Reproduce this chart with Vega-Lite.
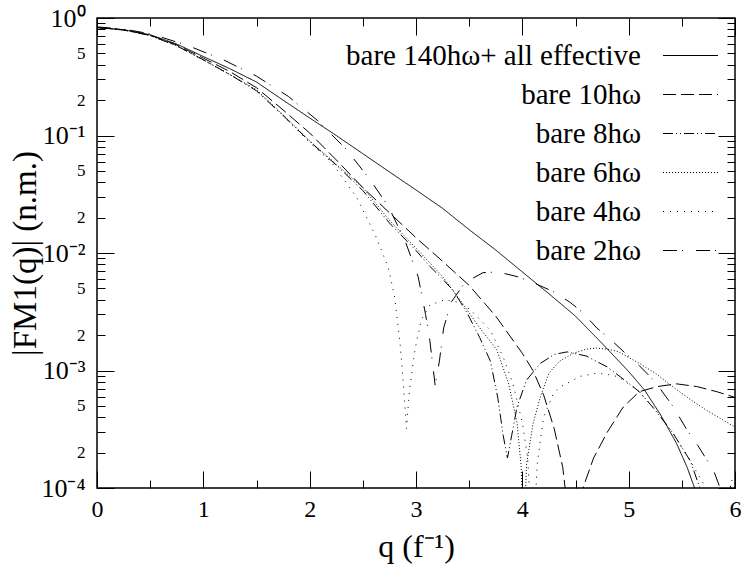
{
  "$schema": "https://vega.github.io/schema/vega-lite/v6.json",
  "width": 638,
  "height": 470,
  "autosize": {"type": "none"},
  "padding": {"left": 97, "top": 18, "right": 7, "bottom": 83},
  "background": "white",
  "config": {
    "view": {"stroke": "black", "strokeWidth": 1.5},
    "font": "Liberation Serif",
    "axis": {"labelColor": "black", "titleColor": "black", "tickColor": "black", "grid": false, "domain": false, "titleFontWeight": "normal", "labelFont": "Liberation Serif", "titleFont": "Liberation Serif"}
  },
  "data": {
    "values": [
      {"s":"bare 140hω+ all effective","q":0,"f":0.83},
      {"s":"bare 140hω+ all effective","q":0.25,"f":0.795},
      {"s":"bare 140hω+ all effective","q":0.5,"f":0.72},
      {"s":"bare 140hω+ all effective","q":0.75,"f":0.6},
      {"s":"bare 140hω+ all effective","q":1,"f":0.47},
      {"s":"bare 140hω+ all effective","q":1.25,"f":0.37},
      {"s":"bare 140hω+ all effective","q":1.5,"f":0.285},
      {"s":"bare 140hω+ all effective","q":1.75,"f":0.2},
      {"s":"bare 140hω+ all effective","q":2,"f":0.141},
      {"s":"bare 140hω+ all effective","q":2.25,"f":0.1},
      {"s":"bare 140hω+ all effective","q":2.5,"f":0.07},
      {"s":"bare 140hω+ all effective","q":2.75,"f":0.049},
      {"s":"bare 140hω+ all effective","q":3,"f":0.0344},
      {"s":"bare 140hω+ all effective","q":3.25,"f":0.024},
      {"s":"bare 140hω+ all effective","q":3.5,"f":0.0158},
      {"s":"bare 140hω+ all effective","q":3.75,"f":0.0106},
      {"s":"bare 140hω+ all effective","q":4,"f":0.0069},
      {"s":"bare 140hω+ all effective","q":4.25,"f":0.0045},
      {"s":"bare 140hω+ all effective","q":4.5,"f":0.0029},
      {"s":"bare 140hω+ all effective","q":4.75,"f":0.0017},
      {"s":"bare 140hω+ all effective","q":5,"f":0.00098},
      {"s":"bare 140hω+ all effective","q":5.15,"f":0.00068},
      {"s":"bare 140hω+ all effective","q":5.3,"f":0.00042},
      {"s":"bare 140hω+ all effective","q":5.45,"f":0.00024},
      {"s":"bare 140hω+ all effective","q":5.55,"f":0.00015},
      {"s":"bare 140hω+ all effective","q":5.62,"f":0.0001},
      {"s":"bare 140hω+ all effective","q":5.7,"f":0.00005},

      {"s":"bare 10hω","q":0,"f":0.83},
      {"s":"bare 10hω","q":0.25,"f":0.795},
      {"s":"bare 10hω","q":0.5,"f":0.715},
      {"s":"bare 10hω","q":0.75,"f":0.59},
      {"s":"bare 10hω","q":1,"f":0.455},
      {"s":"bare 10hω","q":1.25,"f":0.35},
      {"s":"bare 10hω","q":1.5,"f":0.255},
      {"s":"bare 10hω","q":1.75,"f":0.165},
      {"s":"bare 10hω","q":2,"f":0.105},
      {"s":"bare 10hω","q":2.25,"f":0.062},
      {"s":"bare 10hω","q":2.5,"f":0.036},
      {"s":"bare 10hω","q":2.75,"f":0.022},
      {"s":"bare 10hω","q":3,"f":0.0135},
      {"s":"bare 10hω","q":3.25,"f":0.0085},
      {"s":"bare 10hω","q":3.5,"f":0.0053},
      {"s":"bare 10hω","q":3.75,"f":0.0029},
      {"s":"bare 10hω","q":4,"f":0.0014},
      {"s":"bare 10hω","q":4.1,"f":0.001},
      {"s":"bare 10hω","q":4.2,"f":0.00062},
      {"s":"bare 10hω","q":4.3,"f":0.00032},
      {"s":"bare 10hω","q":4.38,"f":0.00015},
      {"s":"bare 10hω","q":4.44,"f":0.00005},
      {"s":"bare 10hω","q":4.5,"f":0.00002},
      {"s":"bare 10hω","q":4.57,"f":0.0001},
      {"s":"bare 10hω","q":4.67,"f":0.00018},
      {"s":"bare 10hω","q":4.8,"f":0.0003},
      {"s":"bare 10hω","q":4.95,"f":0.00049},
      {"s":"bare 10hω","q":5.1,"f":0.00066},
      {"s":"bare 10hω","q":5.27,"f":0.00073},
      {"s":"bare 10hω","q":5.45,"f":0.00077},
      {"s":"bare 10hω","q":5.64,"f":0.00073},
      {"s":"bare 10hω","q":5.83,"f":0.00066},
      {"s":"bare 10hω","q":6,"f":0.00059},

      {"s":"bare 8hω","q":0,"f":0.83},
      {"s":"bare 8hω","q":0.25,"f":0.79},
      {"s":"bare 8hω","q":0.5,"f":0.71},
      {"s":"bare 8hω","q":0.75,"f":0.58},
      {"s":"bare 8hω","q":1,"f":0.44},
      {"s":"bare 8hω","q":1.25,"f":0.33},
      {"s":"bare 8hω","q":1.5,"f":0.24},
      {"s":"bare 8hω","q":1.75,"f":0.148},
      {"s":"bare 8hω","q":2,"f":0.089},
      {"s":"bare 8hω","q":2.25,"f":0.056},
      {"s":"bare 8hω","q":2.5,"f":0.034},
      {"s":"bare 8hω","q":2.75,"f":0.018},
      {"s":"bare 8hω","q":3,"f":0.0105},
      {"s":"bare 8hω","q":3.13,"f":0.0077},
      {"s":"bare 8hω","q":3.25,"f":0.006},
      {"s":"bare 8hω","q":3.35,"f":0.0048},
      {"s":"bare 8hω","q":3.48,"f":0.0031},
      {"s":"bare 8hω","q":3.6,"f":0.0019},
      {"s":"bare 8hω","q":3.7,"f":0.0012},
      {"s":"bare 8hω","q":3.77,"f":0.00058},
      {"s":"bare 8hω","q":3.82,"f":0.00028},
      {"s":"bare 8hω","q":3.86,"f":0.00018},
      {"s":"bare 8hω","q":3.9,"f":0.00028},
      {"s":"bare 8hω","q":3.95,"f":0.00049},
      {"s":"bare 8hω","q":4.04,"f":0.00083},
      {"s":"bare 8hω","q":4.17,"f":0.00115},
      {"s":"bare 8hω","q":4.3,"f":0.00137},
      {"s":"bare 8hω","q":4.42,"f":0.00144},
      {"s":"bare 8hω","q":4.6,"f":0.00133},
      {"s":"bare 8hω","q":4.8,"f":0.00107},
      {"s":"bare 8hω","q":5,"f":0.00078},
      {"s":"bare 8hω","q":5.1,"f":0.00066},
      {"s":"bare 8hω","q":5.25,"f":0.00046},
      {"s":"bare 8hω","q":5.42,"f":0.00029},
      {"s":"bare 8hω","q":5.58,"f":0.00017},
      {"s":"bare 8hω","q":5.67,"f":0.0001},
      {"s":"bare 8hω","q":5.73,"f":0.00005},

      {"s":"bare 6hω","q":0,"f":0.83},
      {"s":"bare 6hω","q":0.25,"f":0.79},
      {"s":"bare 6hω","q":0.5,"f":0.71},
      {"s":"bare 6hω","q":0.75,"f":0.58},
      {"s":"bare 6hω","q":1,"f":0.44},
      {"s":"bare 6hω","q":1.25,"f":0.33},
      {"s":"bare 6hω","q":1.5,"f":0.245},
      {"s":"bare 6hω","q":1.75,"f":0.15},
      {"s":"bare 6hω","q":2,"f":0.09},
      {"s":"bare 6hω","q":2.25,"f":0.057},
      {"s":"bare 6hω","q":2.5,"f":0.036},
      {"s":"bare 6hω","q":2.75,"f":0.019},
      {"s":"bare 6hω","q":3,"f":0.011},
      {"s":"bare 6hω","q":3.25,"f":0.0063},
      {"s":"bare 6hω","q":3.44,"f":0.0037},
      {"s":"bare 6hω","q":3.6,"f":0.0023},
      {"s":"bare 6hω","q":3.76,"f":0.0015},
      {"s":"bare 6hω","q":3.87,"f":0.00078},
      {"s":"bare 6hω","q":3.95,"f":0.00036},
      {"s":"bare 6hω","q":3.99,"f":0.00015},
      {"s":"bare 6hω","q":4.01,"f":0.00003},
      {"s":"bare 6hω","q":4.04,"f":0.00016},
      {"s":"bare 6hω","q":4.1,"f":0.00035},
      {"s":"bare 6hω","q":4.17,"f":0.0006},
      {"s":"bare 6hω","q":4.25,"f":0.00095},
      {"s":"bare 6hω","q":4.35,"f":0.0012},
      {"s":"bare 6hω","q":4.48,"f":0.0014},
      {"s":"bare 6hω","q":4.6,"f":0.00152},
      {"s":"bare 6hω","q":4.7,"f":0.00155},
      {"s":"bare 6hω","q":4.8,"f":0.00152},
      {"s":"bare 6hω","q":4.9,"f":0.00145},
      {"s":"bare 6hω","q":5.1,"f":0.00115},
      {"s":"bare 6hω","q":5.25,"f":0.00095},
      {"s":"bare 6hω","q":5.42,"f":0.00072},
      {"s":"bare 6hω","q":5.6,"f":0.00055},
      {"s":"bare 6hω","q":5.73,"f":0.00046},
      {"s":"bare 6hω","q":6,"f":0.00033},

      {"s":"bare 4hω","q":0,"f":0.83},
      {"s":"bare 4hω","q":0.25,"f":0.79},
      {"s":"bare 4hω","q":0.5,"f":0.71},
      {"s":"bare 4hω","q":0.75,"f":0.58},
      {"s":"bare 4hω","q":1,"f":0.44},
      {"s":"bare 4hω","q":1.25,"f":0.33},
      {"s":"bare 4hω","q":1.5,"f":0.24},
      {"s":"bare 4hω","q":1.75,"f":0.147},
      {"s":"bare 4hω","q":2,"f":0.087},
      {"s":"bare 4hω","q":2.2,"f":0.06},
      {"s":"bare 4hω","q":2.44,"f":0.03},
      {"s":"bare 4hω","q":2.62,"f":0.014},
      {"s":"bare 4hω","q":2.74,"f":0.0075},
      {"s":"bare 4hω","q":2.8,"f":0.0042},
      {"s":"bare 4hω","q":2.85,"f":0.0017},
      {"s":"bare 4hω","q":2.88,"f":0.0008},
      {"s":"bare 4hω","q":2.91,"f":0.00032},
      {"s":"bare 4hω","q":2.94,"f":0.0007},
      {"s":"bare 4hω","q":2.99,"f":0.0015},
      {"s":"bare 4hω","q":3.05,"f":0.0027},
      {"s":"bare 4hω","q":3.13,"f":0.0036},
      {"s":"bare 4hω","q":3.27,"f":0.004},
      {"s":"bare 4hω","q":3.4,"f":0.0038},
      {"s":"bare 4hω","q":3.51,"f":0.0033},
      {"s":"bare 4hω","q":3.7,"f":0.0022},
      {"s":"bare 4hω","q":3.82,"f":0.0013},
      {"s":"bare 4hω","q":3.91,"f":0.00078},
      {"s":"bare 4hω","q":4,"f":0.00036},
      {"s":"bare 4hω","q":4.05,"f":0.00018},
      {"s":"bare 4hω","q":4.1,"f":0.00003},
      {"s":"bare 4hω","q":4.14,"f":0.00016},
      {"s":"bare 4hω","q":4.2,"f":0.0004},
      {"s":"bare 4hω","q":4.29,"f":0.00063},
      {"s":"bare 4hω","q":4.35,"f":0.00072},
      {"s":"bare 4hω","q":4.48,"f":0.00083},
      {"s":"bare 4hω","q":4.54,"f":0.00089},
      {"s":"bare 4hω","q":4.7,"f":0.00095},
      {"s":"bare 4hω","q":4.86,"f":0.00091},
      {"s":"bare 4hω","q":4.95,"f":0.00083},
      {"s":"bare 4hω","q":5.08,"f":0.00068},
      {"s":"bare 4hω","q":5.25,"f":0.00047},
      {"s":"bare 4hω","q":5.42,"f":0.00029},
      {"s":"bare 4hω","q":5.58,"f":0.00017},
      {"s":"bare 4hω","q":5.7,"f":0.00011},
      {"s":"bare 4hω","q":5.78,"f":0.00005},

      {"s":"bare 2hω","q":0,"f":0.84},
      {"s":"bare 2hω","q":0.25,"f":0.805},
      {"s":"bare 2hω","q":0.5,"f":0.735},
      {"s":"bare 2hω","q":0.85,"f":0.585},
      {"s":"bare 2hω","q":1.19,"f":0.44},
      {"s":"bare 2hω","q":1.5,"f":0.32},
      {"s":"bare 2hω","q":1.8,"f":0.215},
      {"s":"bare 2hω","q":2.07,"f":0.135},
      {"s":"bare 2hω","q":2.34,"f":0.077},
      {"s":"bare 2hω","q":2.56,"f":0.043},
      {"s":"bare 2hω","q":2.74,"f":0.025},
      {"s":"bare 2hω","q":2.9,"f":0.0125},
      {"s":"bare 2hω","q":3.02,"f":0.0063},
      {"s":"bare 2hω","q":3.09,"f":0.003},
      {"s":"bare 2hω","q":3.13,"f":0.0018},
      {"s":"bare 2hω","q":3.18,"f":0.00075},
      {"s":"bare 2hω","q":3.22,"f":0.0012},
      {"s":"bare 2hω","q":3.26,"f":0.0023},
      {"s":"bare 2hω","q":3.33,"f":0.0038},
      {"s":"bare 2hω","q":3.46,"f":0.0056},
      {"s":"bare 2hω","q":3.63,"f":0.0068},
      {"s":"bare 2hω","q":3.77,"f":0.0069},
      {"s":"bare 2hω","q":3.95,"f":0.0063},
      {"s":"bare 2hω","q":4.1,"f":0.0056},
      {"s":"bare 2hω","q":4.29,"f":0.0047},
      {"s":"bare 2hω","q":4.45,"f":0.0038},
      {"s":"bare 2hω","q":4.57,"f":0.0031},
      {"s":"bare 2hω","q":4.7,"f":0.0023},
      {"s":"bare 2hω","q":4.84,"f":0.0018},
      {"s":"bare 2hω","q":4.97,"f":0.0014},
      {"s":"bare 2hω","q":5.1,"f":0.0011},
      {"s":"bare 2hω","q":5.25,"f":0.0008},
      {"s":"bare 2hω","q":5.42,"f":0.00049},
      {"s":"bare 2hω","q":5.55,"f":0.00031},
      {"s":"bare 2hω","q":5.65,"f":0.00023},
      {"s":"bare 2hω","q":5.8,"f":0.00014},
      {"s":"bare 2hω","q":5.86,"f":0.0001},
      {"s":"bare 2hω","q":5.89,"f":0.00004},
      {"s":"bare 2hω","q":5.93,"f":0.00008},
      {"s":"bare 2hω","q":6,"f":0.00015}
    ]
  },
  "layer": [
    {
      "mark": {"type": "line", "clip": true, "color": "black", "strokeWidth": 1},
      "encoding": {
        "x": {"field": "q", "type": "quantitative", "scale": {"domain": [0, 6], "nice": false, "zero": false},
          "axis": {"orient": "bottom", "values": [0,1,2,3,4,5,6], "format": "d", "ticks": false, "labelFontSize": 24, "labelPadding": 9, "labelFlush": false,
            "title": "q (f⁻¹)", "titleFontSize": 32, "titlePadding": 10}},
        "y": {"field": "f", "type": "quantitative", "scale": {"type": "log", "domain": [0.0001, 1], "nice": false},
          "axis": {"orient": "left", "values": [0.0001,0.0002,0.0005,0.001,0.002,0.005,0.01,0.02,0.05,0.1,0.2,0.5,1],
            "ticks": false, "labelPadding": 12, "labelFlush": false, "labelBaseline": "middle",
            "labelExpr": "abs(datum.value/pow(10, round(log(datum.value)/LN10)) - 1) < 0.01 ? ['10⁰','10⁻¹','10⁻²','10⁻³','10⁻⁴'][-round(log(datum.value)/LN10)] : format(datum.value/pow(10, floor(log(datum.value)/LN10 + 0.000001)), '.0f')",
            "labelFontSize": {"condition": {"test": "abs(datum.value/pow(10, round(log(datum.value)/LN10)) - 1) < 0.01", "value": 26}, "value": 17},
            "title": "|FM1(q)| (n.m.)", "titleFontSize": 33, "titleAngle": -90, "titleX": -72, "titleY": 235, "titleAlign": "center", "titleBaseline": "middle"}},
        "strokeDash": {"field": "s", "type": "nominal",
          "scale": {"domain": ["bare 140hω+ all effective","bare 10hω","bare 8hω","bare 6hω","bare 4hω","bare 2hω"],
            "range": [[1,0],[13,5],[10,3,1,3,1,3],[1,2],[1,6],[14,5,1,13]]},
          "legend": {"orient": "none", "legendX": 579, "legendY": 23, "title": null, "padding": 0,
            "symbolType": "M-3,0H3", "symbolSize": 336, "symbolStrokeWidth": 1, "symbolStrokeColor": "black", "symbolFillColor": "transparent",
            "labelAlign": "right", "labelOffset": -64, "labelLimit": 600, "labelFont": "Liberation Serif", "labelFontSize": 29, "labelColor": "black",
            "rowPadding": 9}}
      }
    },
    {
      "mark": {"type": "line", "opacity": 0},
      "encoding": {
        "x": {"field": "q", "type": "quantitative", "scale": {"domain": [0, 6], "nice": false, "zero": false},
          "axis": {"orient": "top", "offset": -470, "values": [0,0.5,1,1.5,2,2.5,3,3.5,4,4.5,5,5.5,6], "labels": false, "title": null,
            "tickSize": {"condition": {"test": "datum.value % 1 == 0", "value": 17}, "value": 8}}},
        "y": {"field": "f", "type": "quantitative", "scale": {"type": "log", "domain": [0.0001, 1], "nice": false},
          "axis": {"orient": "right", "offset": -638, "labels": false, "title": null,
            "values": [0.0001,0.0002,0.0003,0.0004,0.0005,0.0006,0.0007,0.0008,0.0009,0.001,0.002,0.003,0.004,0.005,0.006,0.007,0.008,0.009,0.01,0.02,0.03,0.04,0.05,0.06,0.07,0.08,0.09,0.1,0.2,0.3,0.4,0.5,0.6,0.7,0.8,0.9,1],
            "tickSize": {"condition": {"test": "abs(datum.value/pow(10, round(log(datum.value)/LN10)) - 1) < 0.01", "value": 17}, "value": 8}}},
        "detail": {"field": "s"}
      }
    },
    {
      "mark": {"type": "line", "opacity": 0},
      "encoding": {
        "x": {"field": "q", "type": "quantitative", "scale": {"domain": [0, 6], "nice": false, "zero": false},
          "axis": {"orient": "bottom", "offset": -470, "values": [0,0.5,1,1.5,2,2.5,3,3.5,4,4.5,5,5.5,6], "labels": false, "title": null,
            "tickSize": {"condition": {"test": "datum.value % 1 == 0", "value": 17}, "value": 8}}},
        "y": {"field": "f", "type": "quantitative", "scale": {"type": "log", "domain": [0.0001, 1], "nice": false},
          "axis": {"orient": "left", "offset": -638, "labels": false, "title": null,
            "values": [0.0001,0.0002,0.0003,0.0004,0.0005,0.0006,0.0007,0.0008,0.0009,0.001,0.002,0.003,0.004,0.005,0.006,0.007,0.008,0.009,0.01,0.02,0.03,0.04,0.05,0.06,0.07,0.08,0.09,0.1,0.2,0.3,0.4,0.5,0.6,0.7,0.8,0.9,1],
            "tickSize": {"condition": {"test": "abs(datum.value/pow(10, round(log(datum.value)/LN10)) - 1) < 0.01", "value": 17}, "value": 8}}},
        "detail": {"field": "s"}
      }
    }
  ],
  "resolve": {"axis": {"x": "independent", "y": "independent"}}
}
